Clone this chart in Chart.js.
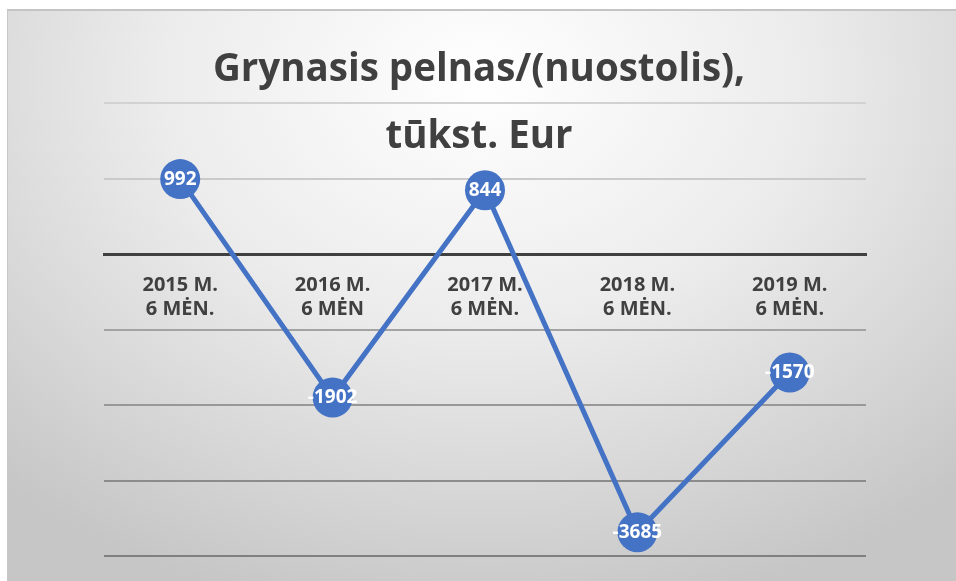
<!DOCTYPE html>
<html>
<head>
<meta charset="utf-8">
<script src="https://cdn.jsdelivr.net/npm/chart.js@4.4.1/dist/chart.umd.min.js"></script>
<style>
html, body { margin: 0; padding: 0; background: #ffffff; }
#frame {
  position: absolute; left: 7px; top: 9px; width: 949px; height: 572px;
  border-top: 2px solid #c4c4c4; border-left: 1px solid #c8c8c8;
  background: radial-gradient(ellipse 75% 95% at 50% 12%, #ffffff 0%, #ececec 45%, #d4d4d4 80%, #c6c6c6 100%);
}
</style>
</head>
<body>
<div id="frame"><canvas id="profitChart"></canvas></div>
<script>
const periods = [['2015 M.', '6 MĖN.'], ['2016 M.', '6 MĖN'], ['2017 M.', '6 MĖN.'], ['2018 M.', '6 MĖN.'], ['2019 M.', '6 MĖN.']];
const profit = [992, -1902, 844, -3685, -1570];
const titleLines = ['Grynasis pelnas/(nuostolis),', 'tūkst. Eur'];

const gridColors = {
  '2000': '#d2d2d2', '1000': '#cacaca', '0': '#bdbdbd',
  '-1000': '#a3a3a3', '-2000': '#989898', '-3000': '#8c8c8c', '-4000': '#808080'
};

// title drawn over chart area, like the original
const titlePlugin = {
  id: 'overTitle',
  beforeDatasetsDraw(chart) {
    const c = chart.ctx;
    c.save();
    c.font = 'bold 38.5px "Open Sans"';
    c.fillStyle = '#404040';
    c.textAlign = 'center';
    c.textBaseline = 'middle';
    const cx = 471;
    c.fillText(titleLines[0], cx, 59);
    c.fillText(titleLines[1], cx, 126);
    c.restore();
  }
};

const valueLabels = {
  id: 'valueLabels',
  afterDatasetsDraw(chart) {
    const c = chart.ctx;
    const meta = chart.getDatasetMeta(0);
    c.save();
    c.font = 'bold 19px "Open Sans"';
    c.fillStyle = '#ffffff';
    c.textAlign = 'center';
    c.textBaseline = 'middle';
    meta.data.forEach((pt, i) => {
      c.fillText(String(profit[i]), pt.x, pt.y);
    });
    c.restore();
  }
};

const ctx = document.getElementById('profitChart');

new Chart(ctx, {
  type: 'line',
  data: {
    labels: periods,
    datasets: [{
      label: 'Grynasis pelnas',
      data: profit,
      borderColor: '#4472c4',
      borderWidth: 5,
      backgroundColor: '#4472c4',
      pointRadius: 20,
      pointHoverRadius: 20,
      pointBorderWidth: 0,
      tension: 0
    }]
  },
  options: {
    responsive: true,
    maintainAspectRatio: false,
    animation: false,
    layout: { padding: { left: 96, right: 91, top: 92, bottom: 27 } },
    plugins: {
      legend: { display: false },
      tooltip: { enabled: false }
    },
    scales: {
      x: {
        position: { y: 0 },
        offset: true,
        grid: { display: false, drawTicks: false },
        border: { display: true, color: '#404040', width: 3 },
        ticks: {
          padding: 19,
          maxRotation: 0,
          color: '#404040',
          font: { family: 'Open Sans', size: 20, weight: 'bold', lineHeight: 1.2 }
        }
      },
      y: {
        min: -4000,
        max: 2000,
        ticks: { display: false, stepSize: 1000 },
        border: { display: false },
        grid: {
          drawTicks: false,
          lineWidth: 2,
          color: (c) => gridColors[String(c.tick.value)] || '#999999'
        }
      }
    }
  },
  plugins: [titlePlugin, valueLabels]
});
</script>
</body>
</html>
